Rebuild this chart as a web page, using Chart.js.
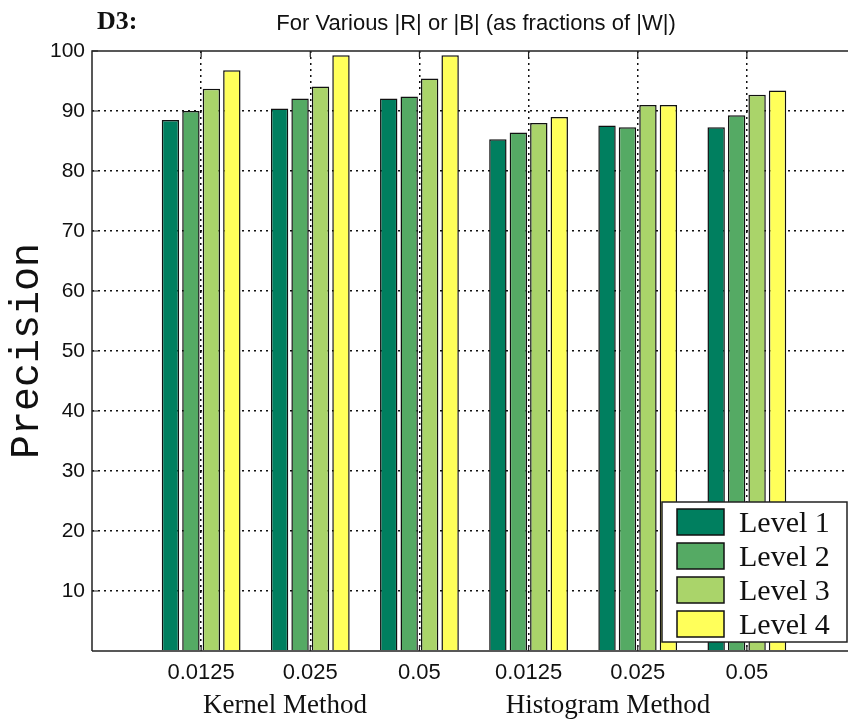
<!DOCTYPE html>
<html>
<head>
<meta charset="utf-8">
<script src="https://cdn.jsdelivr.net/npm/chart.js@4.4.0/dist/chart.umd.min.js"></script>
<style>
  html, body { margin: 0; padding: 0; overflow: hidden; background: #fff; width: 848px; height: 719px; }
  canvas { display: block; }
</style>
</head>
<body>
<canvas id="bar-chart" width="880" height="719"></canvas>
<script>
// values
var categories = ["0.0125", "0.025", "0.05", "0.0125", "0.025", "0.05"];
var methods = ["Kernel Method", "Histogram Method"];
var levelNames = ["Level 1", "Level 2", "Level 3", "Level 4"];
var level1 = [88.5, 90.4, 92.1, 85.3, 87.6, 87.3];
var level2 = [90.0, 92.1, 92.4, 86.4, 87.3, 89.3];
var level3 = [93.7, 94.1, 95.4, 88.0, 91.0, 92.7];
var level4 = [96.8, 99.3, 99.3, 89.0, 91.0, 93.4];
var yTicks = [10, 20, 30, 40, 50, 60, 70, 80, 90, 100];

var colors = ["#007f5f", "#55aa64", "#aad46a", "#ffff5a"];
var series = [level1, level2, level3, level4];

var datasets = series.map(function (vals, k) {
    return {
        label: levelNames[k],
        backgroundColor: colors[k],
        borderColor: "#111",
        borderWidth: 1.5,
        data: vals.map(function (v, i) { return { x: i + 1, y: v }; })
    };
});

var gridColor = function (c) {
    var v = c.tick ? c.tick.value : null;
    if (c.scale.axis === 'x' && (v === 0 || v === 7)) return 'rgba(0,0,0,0)';
    if (c.scale.axis === 'y' && (v === 0 || v === 100)) return 'rgba(0,0,0,0)';
    return '#111';
};

var decor = {
    id: 'decor',
    afterDraw: function (chart) {
        var ctx = chart.ctx;
        var a = chart.chartArea;
        var xs = chart.scales.x, ys = chart.scales.y;
        ctx.save();
        // frame
        ctx.strokeStyle = '#222';
        ctx.lineWidth = 1.5;
        ctx.setLineDash([]);
        ctx.beginPath();
        ctx.moveTo(a.left, a.bottom);
        ctx.lineTo(a.left, a.top);
        ctx.lineTo(a.right, a.top);
        ctx.moveTo(a.left, a.bottom);
        ctx.lineTo(a.right, a.bottom);
        ctx.stroke();
        // inward tick marks
        ctx.lineWidth = 1.2;
        ctx.beginPath();
        yTicks.forEach(function (t) {
            var y = ys.getPixelForValue(t);
            ctx.moveTo(a.left, y); ctx.lineTo(a.left + 6, y);
        });
        categories.forEach(function (c, i) {
            var x = xs.getPixelForValue(i + 1);
            ctx.moveTo(x, a.top); ctx.lineTo(x, a.top + 6);
            ctx.moveTo(x, a.bottom); ctx.lineTo(x, a.bottom - 6);
        });
        ctx.stroke();

        // texts
        ctx.fillStyle = '#111';
        ctx.textBaseline = 'alphabetic';
        ctx.textAlign = 'left';
        ctx.font = 'bold 26px "Liberation Serif"';
        ctx.fillText('D3:', 97, 29);
        ctx.textAlign = 'center';
        ctx.font = '22px "Liberation Sans"';
        ctx.fillText('For Various |R| or |B| (as fractions of |W|)', 476, 30);
        ctx.font = '27px "Liberation Serif"';
        ctx.fillText(methods[0], 285, 713);
        ctx.fillText(methods[1], 608, 713);

        ctx.save();
        ctx.translate(38, (a.top + a.bottom) / 2);
        ctx.rotate(-Math.PI / 2);
        ctx.font = '40px "Liberation Mono"';
        ctx.fillText('Precision', 0, 0);
        ctx.restore();

        // legend box
        ctx.fillStyle = '#fff';
        ctx.fillRect(662, 502, 185, 140);
        ctx.strokeStyle = '#222';
        ctx.lineWidth = 1.5;
        ctx.strokeRect(662, 502, 185, 140);
        chart.data.datasets.forEach(function (ds, k) {
            var y = 509 + k * 34;
            ctx.fillStyle = ds.backgroundColor;
            ctx.fillRect(677, y, 47, 26);
            ctx.strokeStyle = '#111';
            ctx.lineWidth = 1.5;
            ctx.strokeRect(677, y, 47, 26);
            ctx.fillStyle = '#111';
            ctx.textAlign = 'left';
            ctx.font = '30px "Liberation Serif"';
            ctx.fillText(ds.label, 739, y + 23);
        });
        ctx.restore();
    }
};

var ctx = document.getElementById('bar-chart');
var chart = new Chart(ctx, {
    type: 'bar',
    data: { datasets: datasets },
    plugins: [decor],
    options: {
        responsive: false,
        animation: false,
        categoryPercentage: 0.75,
        barPercentage: 0.85,
        layout: { padding: { top: 51, right: 24, left: 0, bottom: 0 } },
        plugins: { legend: { display: false }, title: { display: false }, tooltip: { enabled: false } },
        scales: {
            x: {
                type: 'linear',
                min: 0,
                max: 7,
                offset: false,
                grid: { offset: false, color: gridColor, lineWidth: 1.5, drawTicks: false },
                border: { display: false, dash: [2, 4] },
                ticks: {
                    stepSize: 1,
                    padding: 9,
                    color: '#111',
                    font: { family: 'Liberation Sans', size: 22 },
                    callback: function (v) { return categories[v - 1] || ''; }
                },
                afterFit: function (s) { s.height = 68; }
            },
            y: {
                min: 0,
                max: 100,
                grid: { color: gridColor, lineWidth: 1.5, drawTicks: false },
                border: { display: false, dash: [2, 4] },
                ticks: {
                    stepSize: 10,
                    padding: 7,
                    color: '#111',
                    font: { family: 'Liberation Sans', size: 21 },
                    callback: function (v) { return v === 0 ? '' : v; }
                },
                afterFit: function (s) { s.width = 92; }
            }
        }
    }
});
</script>
</body>
</html>
